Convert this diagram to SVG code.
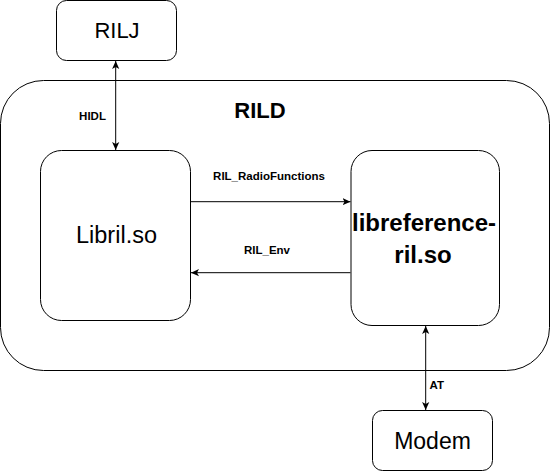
<svg xmlns="http://www.w3.org/2000/svg" width="551" height="471" viewBox="0 0 551 471">
<style>
.box{fill:#fff;stroke:#000;stroke-width:1}
.t{font-family:"Liberation Sans",Arial,sans-serif;fill:#000;text-anchor:middle}
.lbl{font-size:11.5px;font-weight:bold}
.ln{stroke:#000;stroke-width:1;fill:none}
</style>
<defs>
<marker id="a" viewBox="0 0 10 10" refX="10" refY="5" markerWidth="8" markerHeight="8" orient="auto-start-reverse" markerUnits="userSpaceOnUse">
<path d="M0,0.5 L10,5 L0,9.5 L2.5,5 Z" fill="#000"/>
</marker>
</defs>
<g id="RILD"><rect class="box" x="0.5" y="80.5" width="549" height="290" rx="43"/>
<text class="t" x="260" y="118" style="font-size:22px;font-weight:bold">RILD</text></g>
<g id="RILJ"><rect class="box" x="56.5" y="0.5" width="120" height="60" rx="10"/>
<text class="t" x="117" y="37.5" style="font-size:22px">RILJ</text></g>
<g id="Libril"><rect class="box" x="40.5" y="150.5" width="150" height="170" rx="21"/>
<text class="t" x="116.5" y="243" style="font-size:23.5px">Libril.so</text></g>
<g id="libreference"><rect class="box" x="351" y="150.5" width="148.5" height="175" rx="21"/>
<text class="t" x="424" y="231" style="font-size:24px;font-weight:bold">libreference-</text>
<text class="t" x="423" y="263" style="font-size:24px;font-weight:bold">ril.so</text></g>
<g id="Modem"><rect class="box" x="372.5" y="410.5" width="120" height="60" rx="10"/>
<text class="t" x="432.5" y="448.5" style="font-size:23px">Modem</text></g>
<g id="connectors">
<line class="ln" x1="115.7" y1="61" x2="115.7" y2="150" marker-start="url(#a)" marker-end="url(#a)"/>
<text class="t lbl" x="92.5" y="120">HIDL</text>
<line class="ln" x1="191" y1="201.7" x2="350.5" y2="201.7" marker-end="url(#a)"/>
<text class="t lbl" x="269" y="180">RIL_RadioFunctions</text>
<line class="ln" x1="350.5" y1="272.7" x2="191" y2="272.7" marker-end="url(#a)"/>
<text class="t lbl" x="267" y="254">RIL_Env</text>
<line class="ln" x1="425.7" y1="326" x2="425.7" y2="410" marker-start="url(#a)" marker-end="url(#a)"/>
<text class="t lbl" x="436.7" y="389">AT</text>
</g>
</svg>
